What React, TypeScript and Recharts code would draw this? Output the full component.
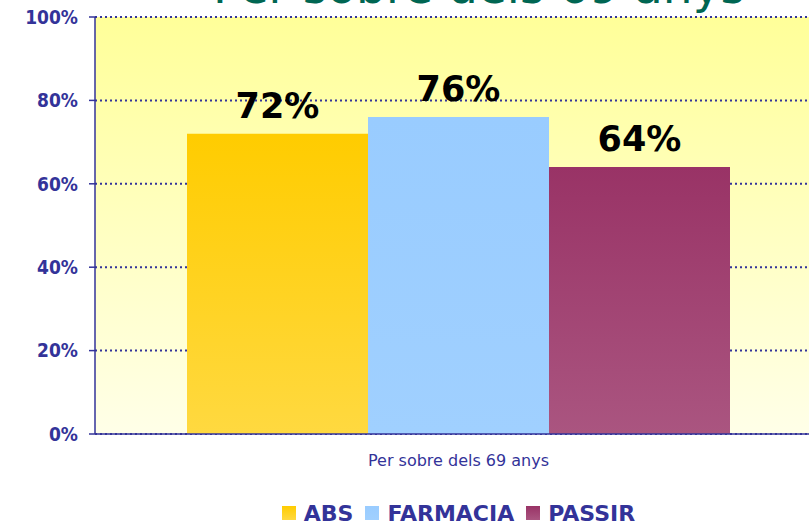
import { Bar, BarChart, CartesianGrid, LabelList, Legend, XAxis, YAxis } from "recharts";

const categories = ["Per sobre dels 69 anys"];
const absValues = [72];
const farmaciaValues = [76];
const passirValues = [64];
const yTicks = [0, 20, 40, 60, 80, 100];

const seriesNames = ["ABS", "FARMACIA", "PASSIR"];
const legendTop = ["#FFCC00", "#99CCFF", "#993366"];
const legendBottom = ["#FFD940", "#A0D0FF", "#AA5580"];

const data = categories.map((name, i) => ({
  name,
  ABS: absValues[i],
  FARMACIA: farmaciaValues[i],
  PASSIR: passirValues[i],
}));

const navy = "#333399";
const labelStyle = {
  fill: "#000",
  fontSize: 35,
  fontWeight: "bold",
  fontFamily: "'DejaVu Sans', Verdana, sans-serif",
};

function LegendBox() {
  return (
    <div
      style={{
        display: "flex",
        justifyContent: "center",
        alignItems: "center",
        paddingTop: 19,
        height: 24,
        fontFamily: "'DejaVu Sans', Verdana, sans-serif",
        fontWeight: "bold",
        fontSize: 22,
        color: navy,
      }}
    >
      {seriesNames.map((s, i) => (
        <span key={s} style={{ display: "flex", alignItems: "center", marginLeft: i === 0 ? 0 : 12 }}>
          <span
            style={{
              display: "inline-block",
              width: 14,
              height: 14,
              marginRight: 8,
              background: `linear-gradient(${legendTop[i]}, ${legendBottom[i]})`,
            }}
          />
          {s}
        </span>
      ))}
    </div>
  );
}

export default function App() {
  return (
    <div style={{ position: "absolute", left: 0, top: 0, width: 809, height: 525, overflow: "hidden", background: "#fff" }}>
      <BarChart
        width={830}
        height={525}
        data={data}
        margin={{ top: 17, right: 8, bottom: 0, left: 0 }}
        barCategoryGap={92}
        barGap={0}
      >
        <defs>
          <linearGradient id="bg" x1="0" y1="0" x2="0" y2="1">
            <stop offset="0%" stopColor="#FFFF99" />
            <stop offset="100%" stopColor="#FFFFE8" />
          </linearGradient>
          <linearGradient id="absGrad" x1="0" y1="0" x2="0" y2="1">
            <stop offset="0%" stopColor="#FFCC00" />
            <stop offset="100%" stopColor="#FFD940" />
          </linearGradient>
          <linearGradient id="farmGrad" x1="0" y1="0" x2="0" y2="1">
            <stop offset="0%" stopColor="#99CCFF" />
            <stop offset="100%" stopColor="#A0D0FF" />
          </linearGradient>
          <linearGradient id="passirGrad" x1="0" y1="0" x2="0" y2="1">
            <stop offset="0%" stopColor="#993366" />
            <stop offset="100%" stopColor="#AA5580" />
          </linearGradient>
        </defs>
        <CartesianGrid
          vertical={false}
          fill="url(#bg)"
          fillOpacity={1}
          stroke={navy}
          strokeWidth={2}
          strokeDasharray="2 3"
        />
        <XAxis
          dataKey="name"
          height={48}
          tickLine={false}
          tickSize={0}
          tickMargin={21}
          axisLine={{ stroke: navy, strokeWidth: 1.5 }}
          tick={{ fill: navy, fontSize: 16, fontFamily: "'DejaVu Sans', Verdana, sans-serif" }}
        />
        <YAxis
          width={95}
          domain={[0, 100]}
          ticks={yTicks}
          interval={0}
          tickFormatter={(v: number) => `${v}%`}
          tickSize={6}
          tickMargin={11}
          axisLine={{ stroke: navy, strokeWidth: 1.5 }}
          tickLine={{ stroke: navy, strokeWidth: 1.5 }}
          tick={{
            fill: navy,
            fontSize: 19,
            fontWeight: "bold",
            fontFamily: "'DejaVu Sans Condensed', 'DejaVu Sans', sans-serif",
          }}
        />
        <Legend
          verticalAlign="bottom"
          content={<LegendBox />}
          wrapperStyle={{ left: 95, width: 727, height: 43 }}
        />
        <Bar dataKey="ABS" fill="url(#absGrad)" isAnimationActive={false}>
          <LabelList dataKey="ABS" position="top" offset={16} formatter={(v: number) => `${v}%`} style={labelStyle} />
        </Bar>
        <Bar dataKey="FARMACIA" fill="url(#farmGrad)" isAnimationActive={false}>
          <LabelList dataKey="FARMACIA" position="top" offset={16} formatter={(v: number) => `${v}%`} style={labelStyle} />
        </Bar>
        <Bar dataKey="PASSIR" fill="url(#passirGrad)" isAnimationActive={false}>
          <LabelList dataKey="PASSIR" position="top" offset={16} formatter={(v: number) => `${v}%`} style={labelStyle} />
        </Bar>
      </BarChart>
      <svg width={809} height={20} style={{ position: "absolute", left: 0, top: 0 }}>
        <text
          x={479}
          y={3}
          textAnchor="middle"
          fontSize={47}
          fill="#006652"
          fontFamily="'DejaVu Sans', Verdana, sans-serif"
        >
          Per sobre dels 69 anys
        </text>
      </svg>
    </div>
  );
}
